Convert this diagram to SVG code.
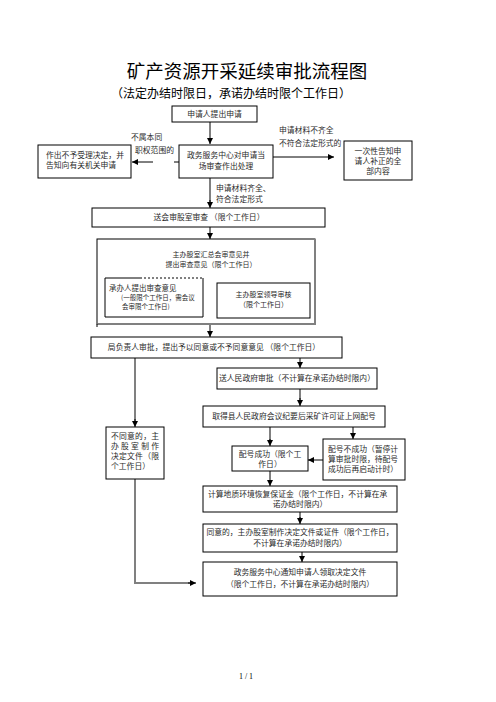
<svg xmlns="http://www.w3.org/2000/svg" width="496" height="702" viewBox="0 0 496 702">
<defs>
<marker id="ah" markerUnits="userSpaceOnUse" markerWidth="6" markerHeight="6" refX="6" refY="3" orient="auto">
<path d="M0,0 L6,3 L0,6 z" fill="#000"/>
</marker>
<style>
text{font-family:"Noto Sans CJK SC","Noto Sans",sans-serif;fill:#2a2a2a;}
.t{font-size:7.8px;}
.s{font-size:7px;}
.xs{font-size:6.5px;}
.m{text-anchor:middle;}
.box{fill:#fff;stroke:#000;stroke-width:1;}
.k{fill:none;stroke:#000;stroke-width:1;}
.g{fill:none;stroke:#808080;stroke-width:2;}
</style>
</defs>
<rect width="496" height="702" fill="#fff"/>

<g id="title">
<text x="247" y="78" class="m" style="font-size:18.5px;fill:#000">矿产资源开采延续审批流程图</text>
<text x="231" y="98" class="m" style="font-size:12px;fill:#000">（法定办结时限日，承诺办结时限个工作日）</text>
</g>

<g id="connectors">
<line class="k" x1="210" y1="122" x2="210" y2="144" marker-end="url(#ah)"/>
<line class="k" x1="179" y1="162" x2="174" y2="162"/>
<line class="k" x1="153" y1="162" x2="132" y2="162" marker-end="url(#ah)"/>
<line class="k" x1="273" y1="157" x2="334" y2="157" marker-end="url(#ah)"/>
<line class="g" x1="210" y1="178" x2="210" y2="202"/>
<line class="k" x1="210" y1="200" x2="210" y2="208" marker-end="url(#ah)"/>
<line class="k" x1="210" y1="227" x2="210" y2="239" marker-end="url(#ah)"/>
<line class="k" x1="203" y1="303" x2="217" y2="303" marker-end="url(#ah)"/>
<line class="k" x1="210" y1="325" x2="210" y2="337" marker-end="url(#ah)"/>
<line class="k" x1="300" y1="358" x2="300" y2="368" marker-end="url(#ah)"/>
<line class="g" x1="300" y1="389" x2="300" y2="400"/>
<line class="k" x1="300" y1="398" x2="300" y2="406" marker-end="url(#ah)"/>
<line class="g" x1="135" y1="358" x2="135" y2="421"/>
<line class="k" x1="135" y1="419" x2="135" y2="427" marker-end="url(#ah)"/>
<line class="g" x1="270" y1="427" x2="270" y2="441"/>
<line class="k" x1="270" y1="439" x2="270" y2="446" marker-end="url(#ah)"/>
<line class="k" x1="353" y1="427" x2="353" y2="439" marker-end="url(#ah)"/>
<line class="k" x1="323" y1="460" x2="308" y2="460" marker-end="url(#ah)"/>
<line class="k" x1="270" y1="471" x2="270" y2="486" marker-end="url(#ah)"/>
<line class="g" x1="300" y1="512" x2="300" y2="519"/>
<line class="k" x1="300" y1="517" x2="300" y2="524" marker-end="url(#ah)"/>
<line class="k" x1="302" y1="552" x2="302" y2="562" marker-end="url(#ah)"/>
<polyline class="g" points="135,479 135,583 190,583"/>
<line class="k" x1="188" y1="583" x2="196" y2="583" marker-end="url(#ah)"/>
</g>

<g id="labels">
<text x="131" y="140" class="t">不属本同</text>
<text x="135" y="153" class="t">职权范围的</text>
<text x="279" y="133" class="t">申请材料不齐全</text>
<text x="279" y="146" class="t">不符合法定形式的</text>
<text x="216" y="191" class="t">申请材料齐全、</text>
<text x="216" y="202" class="t">符合法定形式</text>
</g>

<g id="n-apply">
<rect class="box" x="172" y="106" width="85" height="16"/>
<text x="214.5" y="117" class="t m">申请人提出申请</text>
</g>

<g id="n-reject">
<rect class="box" x="38" y="145" width="93" height="33"/>
<text x="46" y="158" class="t">作出不予受理决定，并</text>
<text x="46" y="168" class="t">告知向有关机关申请</text>
</g>

<g id="n-center">
<rect class="box" x="179" y="145" width="94" height="33"/>
<text x="226" y="158" class="t m">政务服务中心对申请当</text>
<text x="226" y="169" class="t m">场审查作出处理</text>
</g>

<g id="n-notify">
<rect class="box" x="344" y="141" width="68" height="39"/>
<text x="378" y="154" class="t m">一次性告知申</text>
<text x="378" y="164" class="t m">请人补正的全</text>
<text x="378" y="174" class="t m">部内容</text>
</g>

<g id="n-review">
<rect class="box" x="92" y="208" width="233" height="19"/>
<text x="209" y="220" class="t m">送会审股室审查 （限个工作日）</text>
</g>

<g id="n-summary">
<rect class="box" x="97" y="239" width="218" height="85"/>
<line class="g" x1="315" y1="239" x2="315" y2="325"/>
<line x1="97" y1="324" x2="316" y2="324" stroke="#808080" stroke-width="1.5"/>
<line x1="97" y1="324" x2="97" y2="327" stroke="#000" stroke-width="1"/>
<text x="211" y="257" class="s m">主办股室汇总会审意见并</text>
<text x="211" y="267" class="s m">提出审查意见（限个工作日）</text>
</g>

<g id="n-handler">
<rect x="105" y="278" width="98" height="39" fill="#fff" stroke="none"/>
<path class="k" d="M140,278 H105 V317 H203 V278"/>
<line x1="140" y1="278" x2="203" y2="278" stroke="#000" stroke-width="1" stroke-dasharray="2,2"/>
<text x="109" y="291" class="s" style="font-size:7.5px">承办人提出审查意见</text>
<text x="121" y="300" class="xs">(一般限个工作日，需会议</text>
<text x="122" y="309" class="xs">会审限个工作日)</text>
</g>

<g id="n-leader">
<rect class="box" x="217" y="283" width="93" height="35"/>
<text x="263.5" y="297" class="s m">主办股室领导审核</text>
<text x="263.5" y="307" class="s m">（限个工作日）</text>
</g>

<g id="n-bureau">
<rect class="box" x="91" y="337" width="251" height="21"/>
<text x="214" y="350" class="t m">局负责人审批，提出予以同意或不予同意意见 （限个工作日）</text>
</g>

<g id="n-gov">
<rect class="box" x="217" y="368" width="160" height="21"/>
<text x="297" y="381" class="t m">送人民政府审批（不计算在承诺办结时限内）</text>
</g>

<g id="n-number">
<rect class="box" x="203" y="406" width="182" height="21"/>
<text x="294" y="419" class="t m">取得县人民政府会议纪要后采矿许可证上网配号</text>
</g>

<g id="n-disagree">
<rect class="box" x="106" y="427" width="58" height="52"/>
<text x="111" y="439" class="t" textLength="48">不同意的，主</text>
<text x="111" y="449" class="t" textLength="48">办股室制作</text>
<text x="111" y="459" class="t" textLength="48">决定文件（限</text>
<text x="111" y="469" class="t">个工作日）</text>
</g>

<g id="n-ok">
<rect class="box" x="232" y="446" width="76" height="25"/>
<text x="270" y="457" class="t m">配号成功（限个工</text>
<text x="270" y="467" class="t m">作日）</text>
</g>

<g id="n-fail">
<rect class="box" x="323" y="439" width="82" height="41"/>
<text x="328" y="452" class="t">配号不成功（暂停计</text>
<text x="328" y="462" class="t">算审批时限，待配号</text>
<text x="328" y="472" class="t">成功后再启动计时）</text>
</g>

<g id="n-deposit">
<rect class="box" x="203" y="486" width="194" height="26"/>
<text x="208" y="497" class="t">计算地质环境恢复保证金（限个工作日，不计算在承</text>
<text x="300" y="507" class="t m">诺办结时限内）</text>
</g>

<g id="n-agree">
<rect class="box" x="203" y="524" width="194" height="28"/>
<text x="300" y="535" class="t m">同意的，主办股室制作决定文件或证件（限个工作日，</text>
<text x="300" y="546" class="t m">不计算在承诺办结时限内）</text>
</g>

<g id="n-final">
<rect class="box" x="203" y="562" width="194" height="34"/>
<text x="300" y="575" class="t m">政务服务中心通知申请人领取决定文件</text>
<text x="300" y="587" class="t m">（限个工作日，不计算在承诺办结时限内）</text>
</g>

<g id="footer">
<text x="246" y="679" class="m" style="font-size:8px;font-family:'Liberation Serif',serif;fill:#000">1 / 1</text>
</g>
</svg>
